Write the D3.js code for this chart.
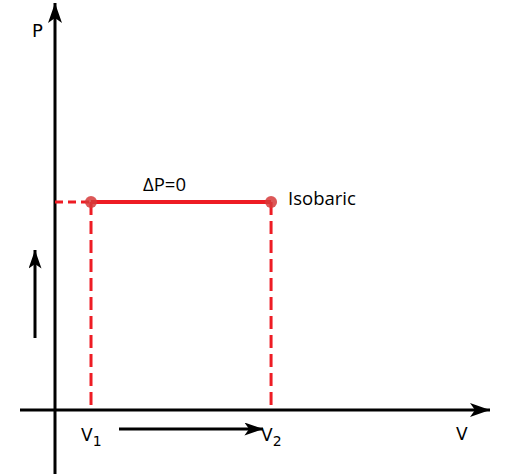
<!DOCTYPE html>
<html><head><meta charset="utf-8">
<script src="https://cdn.jsdelivr.net/npm/d3@7"></script>
<style>html,body{margin:0;padding:0;background:#fff;}svg{display:block;}</style>
</head><body>
<script>
const volumes = [1, 6];
const pressures = [5, 5];
const volumeLabels = ["V", "V"];
const volumeSubs = ["1", "2"];
const processLabel = "Isobaric";
const changeLabel = "\u0394P=0";
const axisLabels = {x: "V", y: "P"};

const W = 512, H = 474;
const svg = d3.select("body").append("svg").attr("width", W).attr("height", H);
const x = d3.scaleLinear().domain([0, 12.08]).range([55, 490]);
const y = d3.scaleLinear().domain([0, 9.78]).range([410, 3]);
const red = "#ee1c24";

const defs = svg.append("defs");
defs.append("marker").attr("id","ah").attr("viewBox","0 0 20 14").attr("refX",20).attr("refY",7)
  .attr("markerWidth",20).attr("markerHeight",15).attr("markerUnits","userSpaceOnUse").attr("orient","auto")
  .append("path").attr("d","M0,0 L20,7 L0,14 L5,7 Z").attr("fill","#000");
defs.append("marker").attr("id","ahs").attr("viewBox","0 0 20 14").attr("refX",20).attr("refY",7)
  .attr("markerWidth",20).attr("markerHeight",13).attr("markerUnits","userSpaceOnUse").attr("orient","auto")
  .append("path").attr("d","M0,0 L20,7 L0,14 L5,7 Z").attr("fill","#000");

// axes
svg.append("line").attr("x1",20).attr("x2",x.range()[1]).attr("y1",y(0)).attr("y2",y(0))
  .attr("stroke","#000").attr("stroke-width",3).attr("marker-end","url(#ah)");
svg.append("line").attr("x1",x(0)).attr("x2",x(0)).attr("y1",H).attr("y2",y.range()[1])
  .attr("stroke","#000").attr("stroke-width",3).attr("marker-end","url(#ah)");

// dashed guides
svg.append("line").attr("x1",x(0)).attr("x2",x(volumes[0])).attr("y1",y(pressures[0])).attr("y2",y(pressures[0]))
  .attr("stroke",red).attr("stroke-width",3).attr("stroke-dasharray","8,5");
volumes.forEach((v,i)=>{
  svg.append("line").attr("x1",x(v)).attr("x2",x(v)).attr("y1",y(pressures[i])).attr("y2",y(0))
    .attr("stroke",red).attr("stroke-width",3).attr("stroke-dasharray","13,6");
});

// process line
svg.append("path").datum(volumes.map((v,i)=>[v,pressures[i]]))
  .attr("d", d3.line().x(d=>x(d[0])).y(d=>y(d[1])))
  .attr("stroke",red).attr("stroke-width",4).attr("fill","none");
svg.selectAll("circle.pt").data(volumes).enter().append("circle")
  .attr("cx",d=>x(d)).attr("cy",(d,i)=>y(pressures[i])).attr("r",6)
  .attr("fill","#d63a3a").attr("opacity",0.85);

// direction arrows
svg.append("line").attr("x1",119).attr("x2",263).attr("y1",429).attr("y2",429)
  .attr("stroke","#000").attr("stroke-width",3).attr("marker-end","url(#ahs)");
svg.append("line").attr("x1",35).attr("x2",35).attr("y1",338).attr("y2",250)
  .attr("stroke","#000").attr("stroke-width",3).attr("marker-end","url(#ahs)");

// labels
const f = "'DejaVu Sans', Verdana, sans-serif";
svg.append("text").attr("x",32).attr("y",37).attr("font-family",f).attr("font-size",18).text(axisLabels.y);
svg.append("text").attr("x",456).attr("y",440).attr("font-family",f).attr("font-size",17).text(axisLabels.x);
volumes.forEach((v,i)=>{
  const t = svg.append("text").attr("x",x(v)-10).attr("y",441).attr("font-family",f).attr("font-size",17);
  t.append("tspan").text(volumeLabels[i]);
  t.append("tspan").attr("dy",5).attr("font-size",14).text(volumeSubs[i]);
});
svg.append("text").attr("x",143).attr("y",y(pressures[0])-11)
  .attr("font-family","'Open Sans', sans-serif").attr("font-size",18.5).text(changeLabel);
svg.append("text").attr("x",x(volumes[1])+17).attr("y",y(pressures[1])+3)
  .attr("font-family","'Open Sans', sans-serif").attr("font-size",18.5).text(processLabel);
</script>
</body></html>
